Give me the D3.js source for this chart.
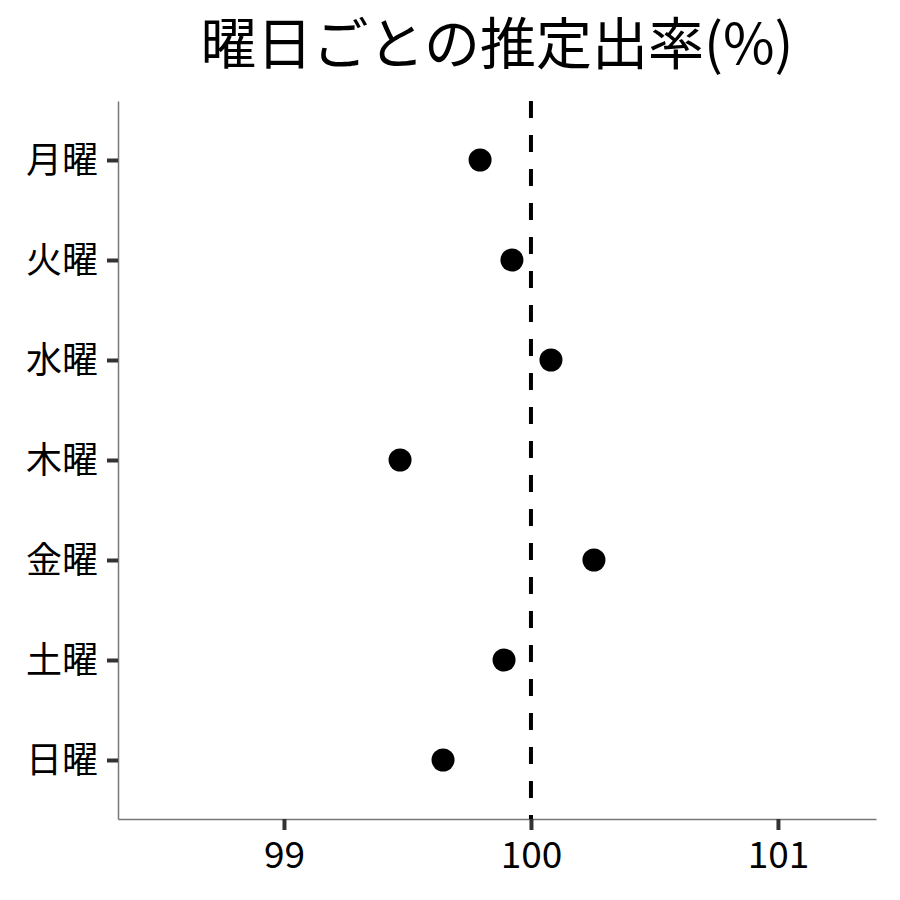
<!DOCTYPE html>
<html><head><meta charset="utf-8">
<script src="https://cdn.jsdelivr.net/npm/d3@7"></script>
<style>body{margin:0;background:#fff}</style>
</head><body>
<script>
const days = ["月曜","火曜","水曜","木曜","金曜","土曜","日曜"];
const values = [99.794, 99.923, 100.081, 99.470, 100.255, 99.891, 99.644];
const xTicks = [99, 100, 101];
const refValue = 100;
const title = "曜日ごとの推定出率(%)";

const W = 900, H = 900;
const m = {left:118, right:24, top:101, bottom:81};
const font = "'Noto Sans CJK JP', 'Noto Sans', sans-serif";
const svg = d3.select("body").append("svg").attr("width",W).attr("height",H);

const x = d3.scaleLinear().domain([98.328, 101.397]).range([m.left, W-m.right]);
const y = d3.scalePoint().domain(days).range([m.top, H-m.bottom]).padding(0.59);

const xAxis = svg.append("g").attr("transform",`translate(0,${H-m.bottom})`)
  .call(d3.axisBottom(x).tickValues(xTicks).tickFormat(d3.format("d")).tickSizeInner(11).tickSizeOuter(0).tickPadding(12));
const yAxis = svg.append("g").attr("transform",`translate(${m.left},0)`)
  .call(d3.axisLeft(y).tickSizeInner(11).tickSizeOuter(0).tickPadding(9));
[xAxis,yAxis].forEach(g=>{
  g.select(".domain").attr("stroke","#777").attr("stroke-width",1.5);
  g.selectAll(".tick line").attr("stroke","#333").attr("stroke-width",4);
  g.selectAll(".tick text").attr("fill","#000").style("font-family",font);
});
xAxis.selectAll(".tick text").style("font-size","37px");
yAxis.selectAll(".tick text").style("font-size","36px").attr("dy","0.36em");

svg.append("line").attr("x1",x(refValue)).attr("x2",x(refValue))
  .attr("y1",m.top).attr("y2",H-m.bottom)
  .attr("stroke","#000").attr("stroke-width",4).attr("stroke-dasharray","17,17");

svg.append("g").selectAll("circle").data(days).join("circle")
  .attr("cx",(d,i)=>x(values[i])).attr("cy",d=>y(d)).attr("r",11.5).attr("fill","#000");

svg.append("text").attr("x",(m.left+W-m.right)/2).attr("y",64)
  .attr("text-anchor","middle").style("font-family",font).style("font-size","56px")
  .text(title);
</script>
</body></html>
